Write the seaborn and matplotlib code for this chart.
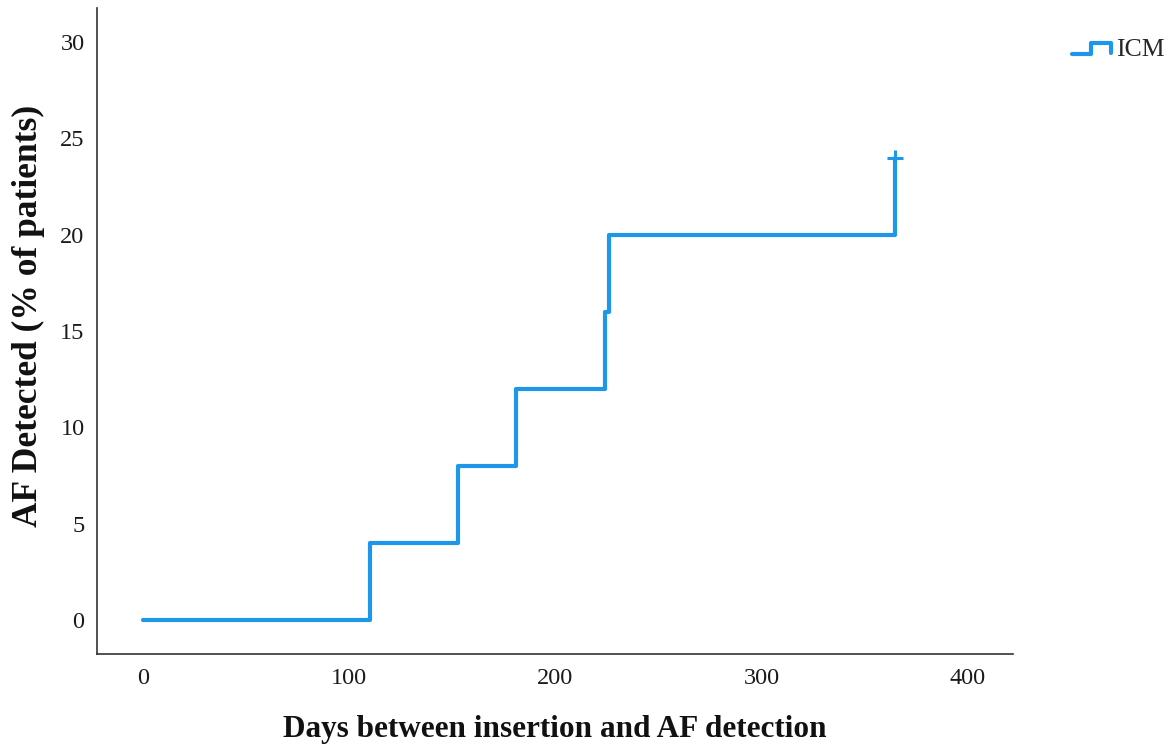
import matplotlib
matplotlib.use("Agg")
import matplotlib.pyplot as plt
from matplotlib.legend_handler import HandlerBase
from matplotlib.lines import Line2D
import seaborn as sns
import pandas as pd

# Cumulative AF detection (Kaplan-Meier style), ICM group
days = [0, 110, 153, 181, 224, 226, 365]
af_detected = [0, 4, 8, 12, 16, 20, 24]
censor_days = [365]
censor_values = [24]
x_ticks = [0, 100, 200, 300, 400]
y_ticks = [0, 5, 10, 15, 20, 25, 30]
group = "ICM"

LINE_COLOR = "#1e96ea"

sns.set_theme(style="white")
plt.rcParams["font.family"] = ["Liberation Serif", "DejaVu Serif"]

df = pd.DataFrame({"days": days, "af": af_detected, "group": group})

fig = plt.figure(figsize=(11.73, 7.49), dpi=100)
ax = fig.add_axes([97 / 1173, (749 - 654) / 749, (1013 - 97) / 1173, (654 - 8) / 749])

sns.lineplot(data=df, x="days", y="af", ax=ax, color=LINE_COLOR, linewidth=3.0,
             drawstyle="steps-post", legend=False)
ax.plot(censor_days, censor_values, marker="+", markersize=11, markeredgewidth=2.2,
        color=LINE_COLOR, linestyle="none")

ax.set_xlim(-22.3, 422)
ax.set_ylim(-1.76, 31.76)
ax.set_xticks(x_ticks)
ax.set_yticks(y_ticks)
ax.tick_params(axis="both", length=0, labelsize=17.5, colors="#1a1a1a")
ax.tick_params(axis="x", pad=10)
ax.tick_params(axis="y", pad=9)

for side in ("top", "right"):
    ax.spines[side].set_visible(False)
for side in ("left", "bottom"):
    ax.spines[side].set_color("#333333")
    ax.spines[side].set_linewidth(1.2)

ax.set_xlabel("Days between insertion and AF detection", fontsize=22.5, fontweight="bold",
              color="#111111", va="center")
ax.xaxis.set_label_coords(0.5, (654 - 729) / 646)
ax.set_ylabel("AF Detected (% of patients)", fontsize=25.5, fontweight="bold",
              color="#111111", va="center")
ax.yaxis.set_label_coords((28 - 97) / 916, (654 - 316) / 646)


class StepHandler(HandlerBase):
    def create_artists(self, legend, orig_handle, xdescent, ydescent, width, height,
                       fontsize, trans):
        x0, x1 = -xdescent, -xdescent + width
        ylo = -ydescent + height * 0.1
        yhi = -ydescent + height * 0.7
        xm = x0 + width * 0.48
        xs = [x0, xm, xm, x1, x1]
        ys = [ylo, ylo, yhi, yhi, ylo + (yhi - ylo) * 0.15]
        ln = Line2D(xs, ys, color=LINE_COLOR, linewidth=3.0, transform=trans)
        return [ln]


handle = Line2D([], [], color=LINE_COLOR)
fig.legend([handle], [group], handler_map={Line2D: StepHandler()},
           loc="upper left", bbox_to_anchor=(1072 / 1173, 1 - 38 / 749),
           frameon=False, fontsize=18.5, handlelength=1.5, handletextpad=0.2,
           borderaxespad=0, borderpad=0)

fig.savefig("out.png", dpi=100, facecolor="white")
